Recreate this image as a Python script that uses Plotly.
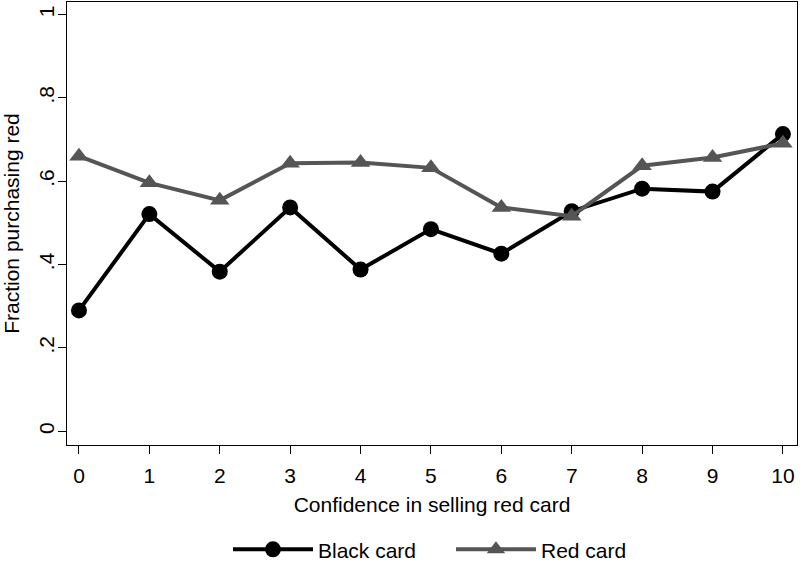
import plotly.graph_objects as go

# Confidence levels (x) and fraction purchasing red (y)
confidence = [0, 1, 2, 3, 4, 5, 6, 7, 8, 9, 10]
black_card = [0.290, 0.521, 0.383, 0.537, 0.388, 0.485, 0.426, 0.528, 0.582, 0.575, 0.713]
red_card = [0.660, 0.596, 0.554, 0.643, 0.645, 0.632, 0.537, 0.516, 0.637, 0.657, 0.691]

y_ticks = [0, 0.2, 0.4, 0.6, 0.8, 1]
y_tick_labels = ['0', '.2', '.4', '.6', '.8', '1']

FONT = 'Liberation Sans, Arial, sans-serif'

fig = go.Figure()

fig.add_trace(go.Scatter(
    x=confidence, y=black_card,
    mode='lines+markers',
    name='Black card',
    line=dict(color='#000000', width=4),
    marker=dict(symbol='circle', size=16, color='#000000'),
))

fig.add_trace(go.Scatter(
    x=confidence, y=red_card,
    mode='lines+markers',
    name='Red card',
    line=dict(color='#555555', width=4),
    marker=dict(symbol='triangle-up', size=17, color='#555555'),
))

axis_common = dict(
    showline=True, linecolor='black', linewidth=1, mirror=True,
    ticks='outside', ticklen=8, tickcolor='black', tickwidth=1,
    showgrid=False, zeroline=False, automargin=False,
    ticklabeloverflow='allow',
    tickfont=dict(size=21, color='black', family=FONT),
)

fig.update_layout(
    width=800, height=572,
    paper_bgcolor='white', plot_bgcolor='white',
    font=dict(family=FONT, color='black', size=21),
    margin=dict(l=67, r=3, t=2, b=121),
    xaxis=dict(
        range=[-0.17, 10.2],
        tickmode='array', tickvals=confidence,
        ticklabelstandoff=4,
        title=dict(text='Confidence in selling red card', font=dict(size=21), standoff=11),
        **axis_common,
    ),
    yaxis=dict(
        range=[-0.033, 1.03],
        tickmode='array', tickvals=y_ticks, ticktext=y_tick_labels,
        tickangle=-90, ticklabelstandoff=-4,
        title=dict(text='Fraction purchasing red', font=dict(size=21), standoff=14),
        **axis_common,
    ),
    legend=dict(
        orientation='h',
        x=0.526, xanchor='center',
        y=-0.19, yanchor='top',
        font=dict(size=21),
        itemwidth=80,
        entrywidth=128,
    ),
)

# drop the default 8px body margin so the figure sits at the page corner
fig.write_html("out.html", config={'displayModeBar': False},
               post_script="document.body.style.margin='0';")
